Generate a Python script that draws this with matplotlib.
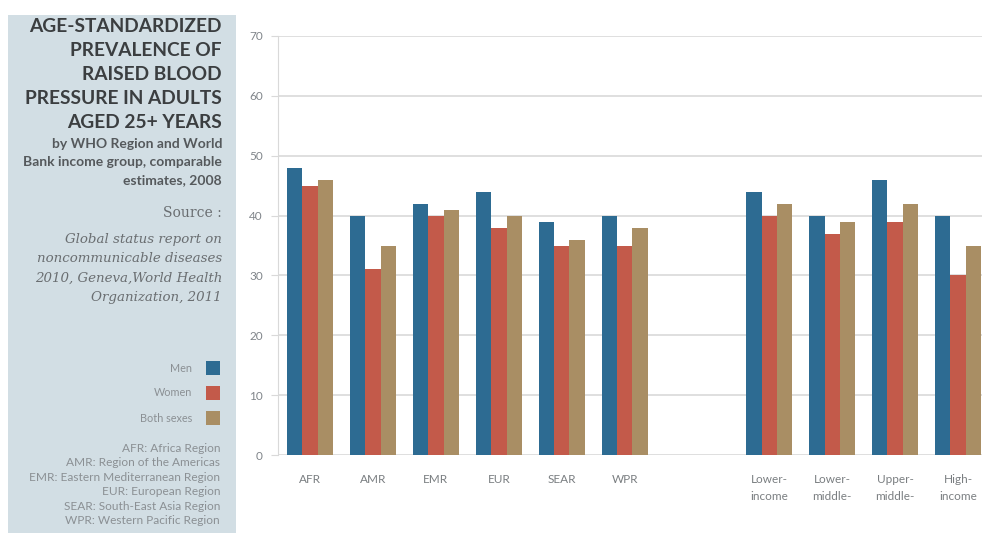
import matplotlib
matplotlib.use('Agg')
import matplotlib.pyplot as plt
from matplotlib.patches import Rectangle
import numpy as np

# data
categories = ['AFR', 'AMR', 'EMR', 'EUR', 'SEAR', 'WPR',
              'Lower-\nincome', 'Lower-\nmiddle-', 'Upper-\nmiddle-', 'High-\nincome']
men = [48, 40, 42, 44, 39, 40, 44, 40, 46, 40]
women = [45, 31, 40, 38, 35, 35, 40, 37, 39, 30]
both = [46, 35, 41, 40, 36, 38, 42, 39, 42, 35]
series_names = ['Men', 'Women', 'Both sexes']
colors = ['#2d6b92', '#c35a4a', '#a98e64']
yticks = [0, 10, 20, 30, 40, 50, 60, 70]
abbrev = ['AFR: Africa Region', 'AMR: Region of the Americas',
          'EMR: Eastern Mediterranean Region', 'EUR: European Region',
          'SEAR: South-East Asia Region', 'WPR: Western Pacific Region']

W, H = 982, 533
fig = plt.figure(figsize=(W / 100, H / 100), dpi=100)
fig.patch.set_facecolor('white')


def px(x, y):
    return x / W, 1 - y / H


# left info panel
fig.patches.append(Rectangle(px(8, 533), 228 / W, 518 / H, transform=fig.transFigure,
                             facecolor='#d2dee4', edgecolor='none', zorder=0))

title = ['AGE-STANDARDIZED', 'PREVALENCE OF', 'RAISED BLOOD',
         'PRESSURE IN ADULTS', 'AGED 25+ YEARS']
for i, line in enumerate(title):
    fig.text(*px(222, 26 + i * 24), line, ha='right', va='center', family='Lato',
             weight='bold', fontsize=13.8, color='#3b3e40')

sub = ['by WHO Region and World', 'Bank income group, comparable', 'estimates, 2008']
for i, line in enumerate(sub):
    fig.text(*px(222, 144 + i * 18), line, ha='right', va='center', family='Lato',
             weight='bold', fontsize=10, color='#55595c')

fig.text(*px(222, 213), 'Source :', ha='right', va='center', family='DejaVu Serif',
         fontsize=10, color='#6a6e71')
src = ['Global status report on', 'noncommunicable diseases',
       '2010, Geneva,World Health', 'Organization, 2011']
for i, line in enumerate(src):
    fig.text(*px(222, 240 + i * 19), line, ha='right', va='center',
             family='DejaVu Serif', style='italic', fontsize=9.6, color='#6a6e71')

# legend
for i, (name, c) in enumerate(zip(series_names, colors)):
    yy = 368 + i * 25
    fig.patches.append(Rectangle(px(206, yy + 7), 14 / W, 14 / H, transform=fig.transFigure,
                                 facecolor=c, edgecolor='none'))
    fig.text(*px(192, yy), name, ha='right', va='center', family='Lato',
             fontsize=7.8, color='#8b9094')

for i, line in enumerate(abbrev):
    fig.text(*px(220, 448 + i * 14.6), line, ha='right', va='center', family='Lato',
             fontsize=8.6, color='#8b9094')

# bar chart
ax = fig.add_axes([278 / W, 1 - 455 / H, (W - 278) / W, (455 - 36) / H])
x = np.arange(len(categories), dtype=float)
x[6:] += 1.3
bw = 0.245
for k, (vals, c) in enumerate(zip([men, women, both], colors)):
    ax.bar(x + (k - 1) * bw, vals, width=bw, color=c, zorder=3, label=series_names[k])

ax.set_xlim(-0.51, 10.68)
ax.set_ylim(0, 70)
ax.set_yticks(yticks)
ax.yaxis.grid(True, color='#d9d9d9', linewidth=1.2, zorder=0)
ax.set_xticks(x)
ax.set_xticklabels(categories, family='Lato', fontsize=8.5, color='#7a7e81',
                   linespacing=1.6, va='top')
ax.tick_params(axis='x', length=0, pad=14)
ax.tick_params(axis='y', length=5, color='#d9d9d9', pad=6, labelsize=8.5,
               labelcolor='#80858a')
for lbl in ax.get_yticklabels():
    lbl.set_family('Lato')
for s in ['top', 'right', 'bottom']:
    ax.spines[s].set_visible(False)
ax.spines['left'].set_color('#d9d9d9')
ax.set_facecolor('white')

fig.savefig('out.png', dpi=100)
